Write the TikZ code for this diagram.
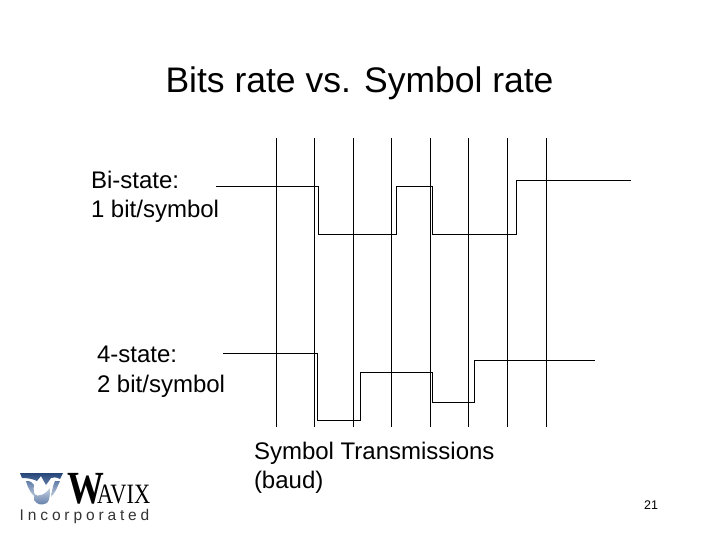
\documentclass[tikz,border=0pt]{standalone}
\usepackage{fontspec}
\setmainfont{Liberation Sans}
\newfontfamily\logoserif{Liberation Serif}
\definecolor{logonavy}{RGB}{38,70,120}
\definecolor{logomid}{RGB}{96,124,168}
\definecolor{logopale}{RGB}{196,208,224}
\begin{document}
\begin{tikzpicture}[x=1pt,y=-1pt,
  sig/.style={draw=black,line width=1pt,line join=miter},
  grid/.style={draw=black,line width=1pt},
  lab/.style={inner sep=0pt,outer sep=0pt,align=left,font=\fontsize{24}{29.5}\selectfont,text=black},
  ttl/.style={anchor=base,inner sep=0pt,font=\fontsize{35.5}{40}\selectfont,text=black}]
\useasboundingbox (0,0) rectangle (720,540);
\fill[white] (0,0) rectangle (720,540);
\node[ttl] (title) at (359.5,93) {Bits rate vs. Symbol rate};
\foreach \n/\x in {a/276.5,b/314.5,c/353.5,d/391.5,e/430.5,f/468.5,g/507.5,h/546.5}{
  \coordinate (\n top) at (\x,138);
  \coordinate (\n bot) at (\x,427);
  \draw[grid] (\n top) -- (\n bot);
}
\coordinate (bistart) at (216,186.5);
\coordinate (biend) at (631,180.5);
\draw[sig] (bistart) -- (318.5,186.5) -- (318.5,234.5) -- (396.5,234.5) -- (396.5,186.5) -- (432.5,186.5) -- (432.5,234.5) -- (516.5,234.5) -- (516.5,180.5) -- (biend);
\coordinate (fourstart) at (222.5,353.5);
\coordinate (fourend) at (595,360.5);
\draw[sig] (fourstart) -- (317.5,353.5) -- (317.5,420.5) -- (360.5,420.5) -- (360.5,372.5) -- (432.5,372.5) -- (432.5,402.5) -- (474.5,402.5) -- (474.5,360.5) -- (fourend);
\node[lab,anchor=north west] (bi) at (91,171) {Bi-state:\\1 bit/symbol};
\node[lab,anchor=north west] (four) at (97,346) {4-state:\\2 bit/symbol};
\node[lab,anchor=north west] (sym) at (254,442) {Symbol Transmissions\\(baud)};
\node[anchor=center,inner sep=0pt,font=\fontsize{12.5}{14}\selectfont] (pagenum) at (651,505) {21};
% logo mark
\shade[top color=logonavy,bottom color=logomid]
  (20,473) -- (63,473) -- (60,479) .. controls (56,477) and (53,477) .. (51,478) -- (46,485) -- (41,476) -- (37,481) .. controls (33,479) and (28,478) .. (22,478) -- cycle;
\shade[top color=logomid,bottom color=logopale]
  (26,481) .. controls (30,481) and (33,482) .. (34,485) .. controls (33,490) and (34,494) .. (37,498) .. controls (31,495) and (28,488) .. (26,481) -- cycle;
\shade[top color=logomid,bottom color=logopale]
  (60,481) .. controls (57,488) and (55,493) .. (51,497) .. controls (52,491) and (53,485) .. (55,481) -- cycle;
\shade[top color=logopale,bottom color=logomid]
  (34,494) .. controls (38,498) and (46,494) .. (50,488) .. controls (50,494) and (50,500) .. (47,503) .. controls (42,505.5) and (37,505) .. (34,500) -- cycle;
\node[anchor=base west,inner sep=0pt,font=\logoserif\bfseries\fontsize{46}{46}\selectfont,xscale=0.8] (logoW) at (67,503.5) {W};
\node[anchor=base west,inner sep=0pt,font=\logoserif\fontsize{28}{28}\selectfont,xscale=0.8] (logoA) at (97,503.5) {AVIX};
\node[anchor=base west,inner sep=0pt,font=\fontsize{15.5}{16}\selectfont,text=black!80] (logoI) at (19.5,520) {\addfontfeature{LetterSpace=25}Incorporated};
\end{tikzpicture}
\end{document}
